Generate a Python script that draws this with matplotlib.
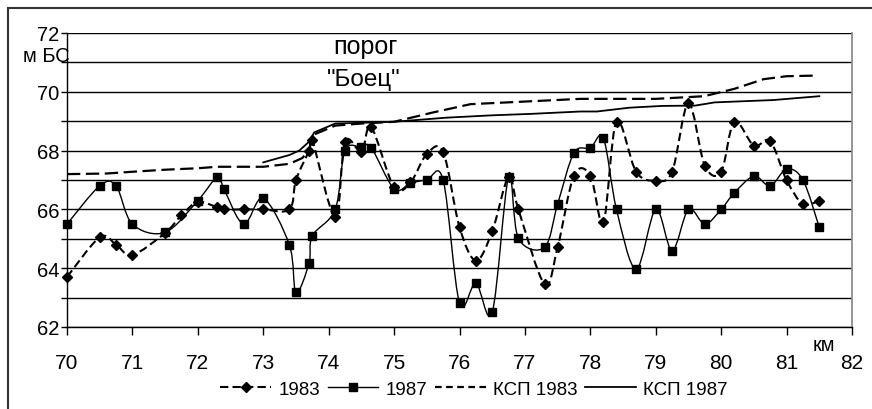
import matplotlib
matplotlib.use("Agg")
import matplotlib.pyplot as plt
from matplotlib.path import Path
from matplotlib.patches import PathPatch, Rectangle
from matplotlib.lines import Line2D
from matplotlib.ticker import MultipleLocator, FuncFormatter

plt.rcParams['font.family'] = ['Liberation Sans', 'DejaVu Sans']

# ---- data ----
x83 = [70, 70.5, 70.75, 71, 71.5, 71.75, 72, 72.3, 72.4, 72.7, 73, 73.4, 73.5, 73.7, 73.75,
       74.1, 74.25, 74.5, 74.65, 75, 75.25, 75.5, 75.75, 76, 76.25, 76.5, 76.75, 76.9, 77.3,
       77.5, 77.75, 78, 78.2, 78.4, 78.7, 79, 79.25, 79.5, 79.75, 80, 80.2, 80.5, 80.75, 81,
       81.25, 81.5]
y83 = [63.7, 65.05, 64.8, 64.45, 65.2, 65.8, 66.25, 66.07, 66.0, 66.0, 66.0, 66.0, 67.0, 68.0,
       68.35, 65.73, 68.3, 67.96, 68.8, 66.75, 66.92, 67.88, 67.95, 65.4, 64.26, 65.25, 67.1,
       66.0, 63.46, 64.71, 67.15, 67.15, 65.56, 68.98, 67.28, 66.98, 67.28, 69.61, 67.49, 67.28,
       68.98, 68.17, 68.32, 67.0, 66.18, 66.3]

x87 = [70, 70.5, 70.75, 71, 71.5, 72, 72.3, 72.4, 72.7, 73, 73.4, 73.5, 73.7, 73.75, 74.1,
       74.25, 74.5, 74.65, 75, 75.25, 75.5, 75.75, 76, 76.25, 76.5, 76.75, 76.9, 77.3, 77.5,
       77.75, 78, 78.2, 78.4, 78.7, 79, 79.25, 79.5, 79.75, 80, 80.2, 80.5, 80.75, 81, 81.25,
       81.5]
y87 = [65.5, 66.8, 66.8, 65.5, 65.22, 66.3, 67.11, 66.69, 65.5, 66.38, 64.79, 63.18, 64.17,
       65.1, 66.0, 68.0, 68.11, 68.1, 66.7, 66.89, 67.0, 67.0, 62.82, 63.49, 62.5, 67.11, 65.02,
       64.71, 66.18, 67.92, 68.09, 68.42, 66.0, 63.97, 66.0, 64.6, 66.0, 65.5, 66.0, 66.56,
       67.13, 66.8, 67.37, 67.0, 65.39]

xk83 = [70, 70.6, 71, 71.5, 72, 72.3, 73, 73.4, 73.6, 73.7, 73.78, 74.1, 74.5, 75, 75.6,
        76.17, 76.83, 77.85, 79.0, 79.74, 80.2, 80.65, 81.0, 81.42]
yk83 = [67.2, 67.22, 67.28, 67.35, 67.4, 67.45, 67.45, 67.55, 67.75, 68.05, 68.55, 68.85,
        68.92, 68.98, 69.3, 69.58, 69.65, 69.76, 69.76, 69.85, 70.1, 70.43, 70.53, 70.55]

xk87 = [73.0, 73.4, 73.55, 73.7, 73.78, 74.1, 75.0, 75.8, 76.5, 77.1, 77.85, 78.1, 78.6,
        79.1, 79.6, 79.9, 80.8, 81.5]
yk87 = [67.6, 67.85, 68.0, 68.3, 68.62, 68.92, 68.98, 69.12, 69.2, 69.25, 69.33, 69.33,
        69.46, 69.52, 69.53, 69.64, 69.72, 69.85]

labels = ['1983', '1987', 'КСП 1983', 'КСП 1987']


def smooth_path(xs, ys):
    """Cubic Bezier path through the points (Excel-style smoothing)."""
    pts = list(zip(xs, ys))
    n = len(pts)
    verts = [pts[0]]
    codes = [Path.MOVETO]
    for i in range(n - 1):
        p0 = pts[i - 1] if i > 0 else pts[i]
        p1 = pts[i]
        p2 = pts[i + 1]
        p3 = pts[i + 2] if i + 2 < n else pts[i + 1]
        c1 = (p1[0] + (p2[0] - p0[0]) / 6.0, p1[1] + (p2[1] - p0[1]) / 6.0)
        c2 = (p2[0] - (p3[0] - p1[0]) / 6.0, p2[1] - (p3[1] - p1[1]) / 6.0)
        verts += [c1, c2, p2]
        codes += [Path.CURVE4] * 3
    return Path(verts, codes)


fig = plt.figure(figsize=(8.72, 4.10), dpi=100)
ax = fig.add_axes([67 / 872, 1 - 328 / 410, (852 - 67) / 872, (328 - 34) / 410])

ax.set_xlim(70, 82)
ax.set_ylim(62, 72)

# grid
ax.yaxis.set_major_locator(MultipleLocator(1))
ax.yaxis.set_major_formatter(FuncFormatter(lambda v, p: f"{int(round(v))}" if int(round(v)) % 2 == 0 else ""))
ax.xaxis.set_major_locator(MultipleLocator(1))
ax.grid(axis='y', color='black', linewidth=1.0)
ax.set_axisbelow(True)

ax.spines['top'].set_visible(False)
ax.spines['right'].set_color('#8c8c8c')
ax.spines['right'].set_linewidth(1.3)
ax.spines['left'].set_linewidth(1.0)
ax.spines['bottom'].set_linewidth(1.0)

ax.tick_params(axis='y', direction='out', length=4, width=1, labelsize=14.5, pad=1.5)
ax.tick_params(axis='x', direction='out', length=6, width=1, labelsize=15, pad=13)

# KSP profiles
ax.plot(xk83, yk83, color='black', linewidth=1.6, dashes=(6, 2.5), zorder=3)
ax.plot(xk87, yk87, color='black', linewidth=1.3, zorder=3)

# smoothed lines
ax.add_patch(PathPatch(smooth_path(x87, y87), fill=False, edgecolor='black', linewidth=1.0, zorder=4))
ax.add_patch(PathPatch(smooth_path(x83, y83), fill=False, edgecolor='black', linewidth=1.5,
                       linestyle=(0, (4, 2)), zorder=4))

# markers
ax.plot(x87, y87, linestyle='none', marker='s', markersize=6.2, color='black', zorder=5, clip_on=False)
ax.plot(x83, y83, linestyle='none', marker='D', markersize=5, color='black', zorder=5, clip_on=False)

# annotations
ax.text(74.56, 71.56, 'порог', ha='center', va='center', fontsize=18)
ax.text(74.53, 70.44, '"Боец"', ha='center', va='center', fontsize=17.5)
ax.text(69.69, 71.22, 'м БС', ha='center', va='center', fontsize=14.5, clip_on=False)
ax.text(81.57, 61.4, 'км', ha='center', va='center', fontsize=14.5, clip_on=False)

# legend
handles = [
    Line2D([], [], color='black', linewidth=1.5, dashes=(4, 2), marker='D', markersize=5),
    Line2D([], [], color='black', linewidth=1.0, marker='s', markersize=6.2),
    Line2D([], [], color='black', linewidth=1.6, dashes=(3, 2)),
    Line2D([], [], color='black', linewidth=1.3),
]
fig.legend(handles, labels, loc='center', bbox_to_anchor=(474 / 872, 1 - 390 / 410), ncol=4,
           frameon=False, fontsize=13.5, handlelength=2.7, handletextpad=0.4, columnspacing=0.4,
           numpoints=1)

# outer frame
fig.patches.append(Rectangle((8 / 872, -0.2), 1.2, 1 - 9 / 410 + 0.2, transform=fig.transFigure,
                             fill=False, edgecolor='#333333', linewidth=1.5))

fig.savefig('out.png', dpi=100)
